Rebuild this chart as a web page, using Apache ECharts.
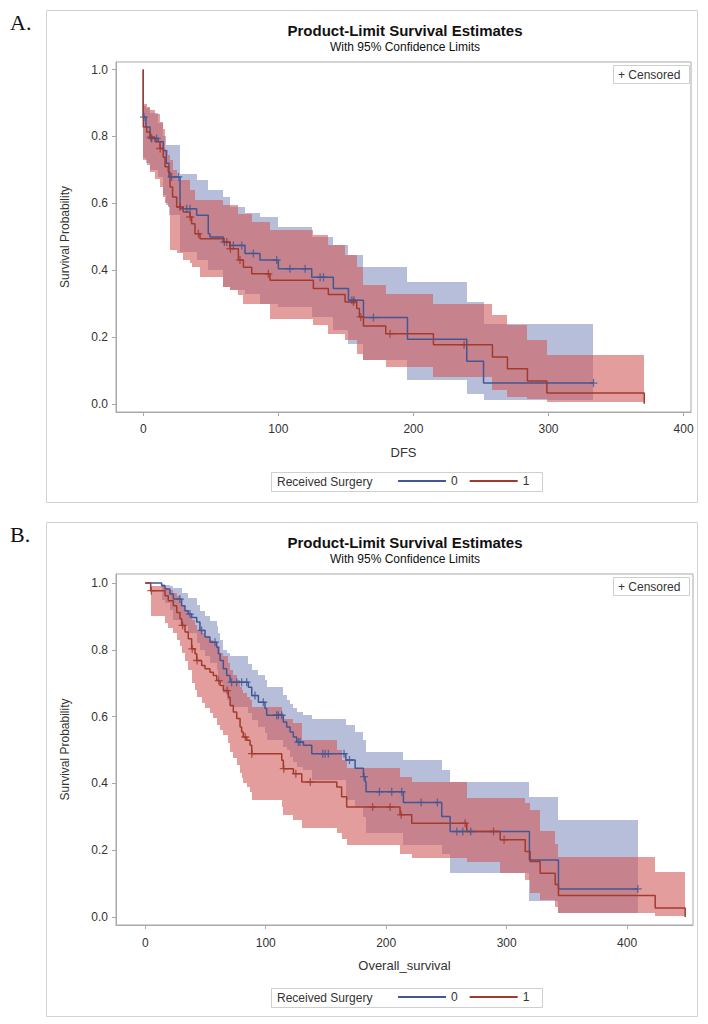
<!DOCTYPE html>
<html><head><meta charset="utf-8">
<script src="https://cdn.jsdelivr.net/npm/echarts@6/dist/echarts.min.js"></script>
<style>html,body{margin:0;padding:0;background:#fff;}#c{width:708px;height:1024px;}</style>
</head><body><div id="c"></div>
<script>
// ---------- tick labels ----------
const yTicks = [0, 0.2, 0.4, 0.6, 0.8, 1.0];
const xTicks = [0, 100, 200, 300, 400];
const groupNames = ['0', '1'];
const legendTitle = 'Received Surgery';

// ---------- Panel A: DFS ----------
// step curves: [time, survival]
const curveA0 = [[0,1.0],[0,0.858],[2,0.828],[5,0.794],[11,0.784],[14.8,0.758],[17,0.72],[19,0.679],[27.2,0.584],[39.5,0.564],[48.1,0.509],[49.4,0.499],[59.3,0.484],[64.2,0.474],[75.3,0.450],[86.4,0.430],[100,0.404],[124.7,0.379],[140.7,0.345],[151.9,0.310],[163,0.258],[195.6,0.193],[239.5,0.127],[251.9,0.062],[333.3,0.062]];
const curveA1 = [[0,1.0],[0,0.828],[2.5,0.813],[5,0.798],[8.7,0.784],[12.4,0.764],[14.8,0.738],[16.1,0.709],[18.5,0.694],[19.8,0.649],[21.7,0.619],[24.7,0.589],[29.6,0.574],[34.6,0.559],[35.8,0.539],[38.3,0.509],[42,0.494],[59.3,0.484],[64.2,0.464],[70.4,0.430],[74.1,0.409],[80.3,0.389],[93.8,0.370],[125.9,0.345],[137,0.327],[149.4,0.305],[158,0.285],[160,0.260],[163,0.233],[179.5,0.210],[214.8,0.177],[258.5,0.140],[269.6,0.105],[284.4,0.068],[298.8,0.032],[370.9,0.0]];
// censored times
const censA0 = [0.5,6.2,9.9,21,26,32.1,34.6,60,66.7,72.9,81.5,98.8,108.6,119.8,130.9,133.4,154.4,156,170.4,333.3];
const censA1 = [5.5,12.5,27.2,34.7,40.8,61.8,64.5,71.6,92.6,155.6,161,182.7,237.5];
// 95% confidence bands: [time, lower, upper] (last row = end)
const bandA0 = [[0,0.735,0.89],[2,0.72,0.885],[5,0.70,0.87],[11,0.68,0.84],[14.8,0.625,0.80],[17,0.595,0.773],[19,0.564,0.773],[27.2,0.454,0.689],[39.5,0.43,0.67],[48.1,0.40,0.64],[59.3,0.35,0.62],[64.2,0.34,0.589],[75.3,0.33,0.57],[86.4,0.30,0.559],[100,0.29,0.529],[124.7,0.26,0.50],[140.7,0.22,0.474],[151.9,0.18,0.446],[163,0.13,0.409],[195.6,0.07,0.365],[239.5,0.03,0.305],[251.9,0.01,0.238],[333.3,0.01,0.238]];
const bandA1 = [[0,0.729,0.898],[2.5,0.714,0.888],[5,0.694,0.878],[8.7,0.674,0.868],[12.4,0.649,0.843],[14.8,0.619,0.823],[16.1,0.60,0.76],[18.5,0.589,0.745],[19.8,0.46,0.73],[21.7,0.46,0.70],[24.7,0.45,0.669],[29.6,0.43,0.669],[34.6,0.42,0.639],[35.8,0.41,0.639],[38.3,0.41,0.609],[42,0.38,0.609],[59.3,0.35,0.594],[64.2,0.34,0.594],[70.4,0.325,0.569],[74.1,0.30,0.569],[80.3,0.30,0.544],[93.8,0.255,0.519],[125.9,0.235,0.504],[137,0.21,0.475],[149.4,0.19,0.445],[158,0.15,0.41],[163,0.13,0.355],[179.5,0.11,0.330],[214.8,0.08,0.30],[258.5,0.04,0.265],[269.6,0.02,0.235],[284.4,0.015,0.19],[298.8,0.005,0.145],[370.9,0.005,0.145]];

// ---------- Panel B: Overall survival ----------
const curveB0 = [[0,1.0],[13.6,0.992],[16.4,0.982],[20.5,0.967],[23.3,0.952],[30.2,0.932],[33,0.917],[35.7,0.907],[38.5,0.897],[42.7,0.883],[45.4,0.858],[49.6,0.838],[53.7,0.823],[59.3,0.808],[60.7,0.788],[62.1,0.768],[64.8,0.743],[67.6,0.723],[70.4,0.703],[85.6,0.688],[88.4,0.663],[93.9,0.643],[99.4,0.624],[100.8,0.604],[114.6,0.584],[117.4,0.569],[120.2,0.554],[122.9,0.539],[125.7,0.524],[131.3,0.514],[138.2,0.489],[166.5,0.470],[174.2,0.445],[181.1,0.420],[182.5,0.405],[183.3,0.375],[214.3,0.343],[246.1,0.301],[253.1,0.256],[318.9,0.171],[343,0.084],[408.9,0.084]];
const curveB1 = [[0,1.0],[4.5,0.977],[16.4,0.962],[19.1,0.947],[23.3,0.932],[26.1,0.912],[28.8,0.893],[30.2,0.873],[33,0.853],[35.7,0.833],[38.5,0.803],[41.3,0.788],[42.7,0.768],[46.8,0.753],[49.6,0.743],[53.7,0.733],[56.5,0.723],[59.3,0.708],[62.1,0.693],[64.8,0.678],[69,0.658],[70.4,0.633],[73.1,0.614],[75.9,0.594],[78.7,0.569],[80,0.554],[81.4,0.539],[84.2,0.529],[87,0.514],[88.4,0.489],[113.3,0.469],[114.6,0.444],[123,0.429],[129.9,0.404],[159,0.389],[163,0.36],[167.2,0.329],[211.5,0.306],[221.2,0.281],[266.9,0.256],[294.6,0.231],[315.4,0.196],[319.5,0.166],[327.8,0.131],[340.3,0.097],[343,0.064],[423.3,0.027],[448.2,0.0]];
const censB0 = [28.8,37.1,46.8,57.9,71.7,75.9,80,84.2,91.1,98,109.1,110.5,113.3,127.1,128.5,147.3,149.3,152,165,169.5,181.6,194.4,204.6,212.9,229,242.5,258.6,263.6,270.2,408.9];
const censB1 = [5,31,39,43,61,68,83,88.5,115,125,137,188.8,203.2,212.4,265.5,289.1,297.9];
const bandB0 = [[13.6,0.95,0.998],[16.4,0.94,0.995],[20.5,0.92,0.99],[23.3,0.89,0.985],[30.2,0.87,0.97],[35.7,0.85,0.955],[42.7,0.82,0.935],[45.4,0.80,0.915],[49.6,0.78,0.90],[53.7,0.76,0.885],[59.3,0.74,0.87],[60.7,0.72,0.85],[62.1,0.70,0.83],[64.8,0.67,0.80],[67.6,0.65,0.79],[70.4,0.63,0.78],[85.6,0.61,0.757],[88.4,0.59,0.74],[93.9,0.57,0.725],[99.4,0.55,0.71],[100.8,0.53,0.69],[114.6,0.51,0.665],[117.4,0.50,0.65],[120.2,0.48,0.638],[122.9,0.465,0.625],[125.7,0.45,0.615],[131.3,0.44,0.605],[138.2,0.41,0.594],[166.5,0.35,0.575],[174.2,0.33,0.555],[181.1,0.30,0.53],[183.3,0.25,0.495],[214.3,0.216,0.470],[246.1,0.19,0.44],[253.1,0.131,0.405],[318.9,0.047,0.36],[343,0.012,0.29],[408.9,0.012,0.29]];
const bandB1 = [[4.5,0.90,0.99],[16.4,0.88,0.985],[19.1,0.865,0.98],[23.3,0.85,0.97],[26.1,0.83,0.96],[28.8,0.81,0.945],[30.2,0.79,0.935],[33,0.765,0.92],[35.7,0.74,0.905],[38.5,0.70,0.89],[41.3,0.68,0.875],[42.7,0.66,0.86],[46.8,0.64,0.85],[49.6,0.625,0.84],[53.7,0.61,0.83],[56.5,0.595,0.82],[59.3,0.575,0.81],[62.1,0.56,0.79],[64.8,0.545,0.78],[69,0.52,0.76],[70.4,0.495,0.74],[73.1,0.475,0.725],[75.9,0.455,0.71],[78.7,0.43,0.69],[80,0.415,0.68],[81.4,0.40,0.67],[84.2,0.39,0.66],[87,0.375,0.65],[88.4,0.35,0.63],[113.3,0.33,0.61],[114.6,0.305,0.594],[123,0.29,0.58],[129.9,0.265,0.53],[159,0.25,0.50],[163,0.235,0.47],[167.2,0.215,0.445],[211.5,0.19,0.42],[221.2,0.176,0.405],[266.9,0.165,0.355],[294.6,0.131,0.355],[315.4,0.11,0.34],[319.5,0.071,0.32],[327.8,0.05,0.256],[340.3,0.03,0.22],[343,0.012,0.181],[423.3,0.002,0.136],[448.2,0.002,0.136]];

// ---------- styling ----------
const FONT = '"Liberation Sans", Arial, sans-serif';
const LINE = ['#445694', '#A23A2E'];
const BAND = ['rgba(111,126,179,0.5)', 'rgba(208,91,91,0.6)'];
const AXC = '#a9a9a9';
const TXT = '#333';

function survAt(curve, t) {
  let s = curve[0][1];
  for (const p of curve) { if (p[0] <= t) s = p[1]; else break; }
  return s;
}
function bandSegs(band) {
  const out = [];
  for (let i = 0; i < band.length - 1; i++) out.push([band[i][0], band[i+1][0], band[i][1], band[i][2]]);
  return out;
}
const plusPath = 'path://M5,0L5,10M0,5L10,5';

const panels = [
  { grid:{left:116, top:62, width:575, height:350}, x:[-20.2,405.5], y:[-0.0245,1.0228], xname:'DFS',
    curves:[curveA0, curveA1], cens:[censA0, censA1], bands:[bandA0, bandA1], labelMargin:11 },
  { grid:{left:116, top:574, width:577, height:351}, x:[-24.3,454.7], y:[-0.024,1.027], xname:'Overall_survival',
    curves:[curveB0, curveB1], cens:[censB0, censB1], bands:[bandB0, bandB1], labelMargin:12 }
];

const grid = [], xAxis = [], yAxis = [], series = [];
panels.forEach((p, k) => {
  grid.push(Object.assign({show:true, borderColor:AXC, borderWidth:1, backgroundColor:'#fff'}, p.grid));
  xAxis.push({ type:'value', gridIndex:k, min:p.x[0], max:p.x[1], name:p.xname, nameLocation:'middle', nameGap:34,
    nameTextStyle:{fontFamily:FONT, fontSize:13, color:TXT},
    axisLine:{show:true, onZero:false, lineStyle:{color:AXC}},
    axisTick:{show:true, customValues:xTicks, length:4, lineStyle:{color:AXC}},
    axisLabel:{customValues:xTicks, margin:p.labelMargin, fontFamily:FONT, fontSize:12, color:TXT},
    splitLine:{show:false} });
  yAxis.push({ type:'value', gridIndex:k, min:p.y[0], max:p.y[1], name:'Survival Probability', nameLocation:'middle', nameGap:45,
    nameTextStyle:{fontFamily:FONT, fontSize:12, color:TXT},
    axisLine:{show:true, onZero:false, lineStyle:{color:AXC}},
    axisTick:{show:true, customValues:yTicks, length:4, lineStyle:{color:AXC}},
    axisLabel:{customValues:yTicks, margin:8, fontFamily:FONT, fontSize:12, color:TXT, formatter:v=>v.toFixed(1)},
    splitLine:{show:false} });
  // bands
  [0,1].forEach(g => {
    series.push({ type:'custom', name:'band'+k+g, xAxisIndex:k, yAxisIndex:k, z:1, silent:true, clip:true,
      encode:{x:[0,1], y:[2,3]},
      data: bandSegs(p.bands[g]),
      renderItem:(params, api) => {
        const a = api.coord([api.value(0), api.value(3)]);
        const b = api.coord([api.value(1), api.value(2)]);
        const x0 = Math.round(a[0]), x1 = Math.round(b[0]), y0 = Math.round(a[1]), y1 = Math.round(b[1]);
        return { type:'rect', shape:{x:x0, y:y0, width:x1-x0, height:y1-y0}, style:{fill:BAND[g]} };
      } });
  });
  // curves
  [0,1].forEach(g => {
    series.push({ type:'line', name:groupNames[g], xAxisIndex:k, yAxisIndex:k, z:3, step:'end', symbol:'none',
      data:p.curves[g], lineStyle:{color:LINE[g], width:1.5}, itemStyle:{color:LINE[g]}, animation:false });
  });
  // censored marks
  [0,1].forEach(g => {
    series.push({ type:'scatter', name:'cens'+k+g, xAxisIndex:k, yAxisIndex:k, z:4, symbol:plusPath, symbolSize:8,
      data:p.cens[g].map(t => [t, survAt(p.curves[g], t)]),
      itemStyle:{color:'none', borderColor:LINE[g], borderWidth:1.3}, animation:false });
  });
});

const legend = [
  { top:475, left:398, data:groupNames, icon:'rect', itemWidth:48, itemHeight:2, itemGap:12, padding:0,
    textStyle:{fontFamily:FONT, fontSize:12, color:TXT}, selectedMode:false },
  { top:991, left:398, data:groupNames, icon:'rect', itemWidth:48, itemHeight:2, itemGap:12, padding:0,
    textStyle:{fontFamily:FONT, fontSize:12, color:TXT}, selectedMode:false }
];

function panelGraphics(top, h, legendTop, letter) {
  return [
    { type:'rect', shape:{x:46.5, y:top+0.5, width:651, height:h}, style:{fill:'none', stroke:'#d3d3d3', lineWidth:1}, z:0 },
    { type:'text', x:10, y:top+12, style:{text:letter, font:'22px "Liberation Serif", "Times New Roman", serif', fill:'#111', textVerticalAlign:'middle'}},
    { type:'text', x:405, y:top+20, style:{text:'Product-Limit Survival Estimates', font:'bold 15px '+FONT, fill:'#111', textAlign:'center', textVerticalAlign:'middle'}},
    { type:'text', x:405, y:top+37, style:{text:'With 95% Confidence Limits', font:'12px '+FONT, fill:'#111', textAlign:'center', textVerticalAlign:'middle'}},
    { type:'rect', shape:{x:613.5, y:top+55.5, width:76, height:18}, style:{fill:'#fff', stroke:'#cfcfcf', lineWidth:1}, z:10 },
    { type:'text', x:618, y:top+64.5, style:{text:'+ Censored', font:'12px '+FONT, fill:TXT, textVerticalAlign:'middle'}, z:11 },
    { type:'rect', shape:{x:271.5, y:legendTop+0.5, width:271, height:19}, style:{fill:'#fff', stroke:'#cfcfcf', lineWidth:1}, z:0 },
    { type:'text', x:277, y:legendTop+10, style:{text:legendTitle, font:'12px '+FONT, fill:TXT, textVerticalAlign:'middle'}, z:1 }
  ];
}

const chart = echarts.init(document.getElementById('c'), null, {renderer:'svg', width:708, height:1024});
chart.setOption({
  backgroundColor:'#fff',
  animation:false,
  grid, xAxis, yAxis, series, legend,
  graphic: { elements: [].concat(panelGraphics(10, 492, 472, 'A.'), panelGraphics(522, 494, 988, 'B.')) }
});
</script>
</body></html>
